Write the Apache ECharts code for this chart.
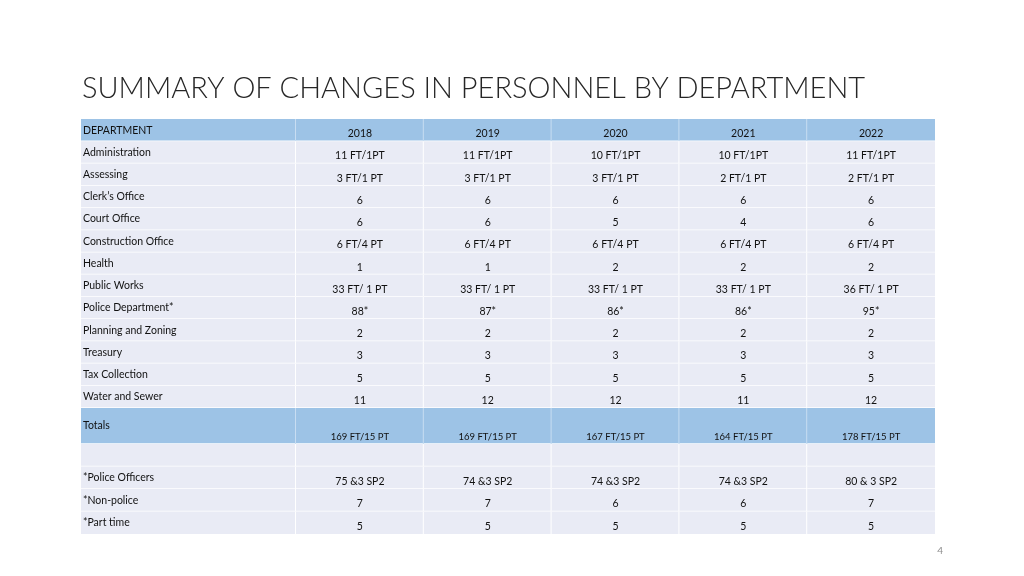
<!DOCTYPE html>
<html><head><meta charset="utf-8">
<script src="https://cdn.jsdelivr.net/npm/echarts/dist/echarts.min.js"></script>
<style>html,body{margin:0;padding:0;background:#fff}#c{width:1024px;height:576px}</style>
</head><body><div id="c"></div>
<script>
// ---------- DATA ----------
const titleText = 'SUMMARY OF CHANGES IN PERSONNEL BY DEPARTMENT';
const headerLabel = 'DEPARTMENT';
const years = ['2018', '2019', '2020', '2021', '2022'];
const departments = ['Administration', 'Assessing', 'Clerk\u2019s Office', 'Court Office', 'Construction Office', 'Health',
  'Public Works', 'Police Department*', 'Planning and Zoning', 'Treasury', 'Tax Collection', 'Water and Sewer'];
const staff2018 = ['11 FT/1PT', '3 FT/1 PT', '6', '6', '6 FT/4 PT', '1', '33 FT/ 1 PT', '88*', '2', '3', '5', '11'];
const staff2019 = ['11 FT/1PT', '3 FT/1 PT', '6', '6', '6 FT/4 PT', '1', '33 FT/ 1 PT', '87*', '2', '3', '5', '12'];
const staff2020 = ['10 FT/1PT', '3 FT/1 PT', '6', '5', '6 FT/4 PT', '2', '33 FT/ 1 PT', '86*', '2', '3', '5', '12'];
const staff2021 = ['10 FT/1PT', '2 FT/1 PT', '6', '4', '6 FT/4 PT', '2', '33 FT/ 1 PT', '86*', '2', '3', '5', '11'];
const staff2022 = ['11 FT/1PT', '2 FT/1 PT', '6', '6', '6 FT/4 PT', '2', '36 FT/ 1 PT', '95*', '2', '3', '5', '12'];
const totalsLabel = 'Totals';
const totals = ['169 FT/15 PT', '169 FT/15 PT', '167 FT/15 PT', '164 FT/15 PT', '178 FT/15 PT'];
const footLabels = ['*Police Officers', '*Non-police', '*Part time'];
const policeOfficers = ['75 &3 SP2', '74 &3 SP2', '74 &3 SP2', '74 &3 SP2', '80 & 3 SP2'];
const nonPolice = ['7', '7', '6', '6', '7'];
const partTime = ['5', '5', '5', '5', '5'];
const pageNumber = '4';

// ---------- TABLE STRUCTURE (built from data) ----------
const staffByYear = [staff2018, staff2019, staff2020, staff2021, staff2022];
const blocks = [
  { labels: [headerLabel].concat(departments),
    cols: years.map((y, j) => [y].concat(staffByYear[j])),
    blueRows: [0], top: 119, height: 289, valueSize: 10.5 },
  { labels: [totalsLabel], cols: totals.map(t => [t]), blueRows: [0], top: 408, height: 36, valueSize: 9.5 },
  { labels: [''].concat(footLabels),
    cols: years.map((y, j) => ['', policeOfficers[j], nonPolice[j], partTime[j]]),
    blueRows: [], top: 444, height: 90, valueSize: 10.5 }
];

const FONT = 'Lato';
const BLUE = '#9DC3E6', LIGHT = '#E9EBF5', BLUE_SEP = '#C8DDF2', TEXT = '#111111';
const LEFT = 81, LABEL_W = 215, VAL_W = 639;

const grids = [], xAxes = [], yAxes = [], series = [];

function makeRenderer(items, opts) {
  return function (params, api) {
    const it = items[params.dataIndex];
    const c = api.coord([api.value(0), api.value(1)]);
    const s = api.size([1, 1]);
    const x = c[0] - s[0] / 2, y = c[1] - s[1] / 2, w = s[0], h = s[1];
    const blue = opts.blueRows.indexOf(it[1]) >= 0;
    const children = [
      { type: 'rect', shape: { x: x, y: y, width: w, height: h }, style: { fill: blue ? BLUE : LIGHT } }
    ];
    if (!opts.lastRowOverall || it[1] < opts.rowCount - 1) {
      children.push({ type: 'rect', shape: { x: x, y: y + h - 0.75, width: w, height: 1.5 }, style: { fill: '#fff' } });
    }
    if (!(opts.isValue && it[0] === opts.colCount - 1)) {
      children.push({ type: 'rect', shape: { x: x + w - 1, y: y, width: 2, height: h }, style: { fill: blue ? BLUE_SEP : '#fff' } });
    }
    if (it[2]) {
      if (opts.isValue) {
        children.push({ type: 'text', style: { text: it[2], x: x + w / 2, y: y + h - 7.5, align: 'center', verticalAlign: 'middle',
          fill: TEXT, fontSize: opts.valueSize, fontFamily: FONT } });
      } else {
        children.push({ type: 'text', style: { text: it[2], x: x + 2, y: y + h / 2, align: 'left', verticalAlign: 'middle',
          fill: TEXT, fontSize: 10.5, fontFamily: FONT } });
      }
    }
    return { type: 'group', children: children };
  };
}

blocks.forEach((b, bi) => {
  const rowIds = b.labels.map((_, i) => 'r' + i);
  const lastBlock = bi === blocks.length - 1;
  [false, true].forEach(isValue => {
    const gi = grids.length;
    grids.push({ left: isValue ? LEFT + LABEL_W : LEFT, width: isValue ? VAL_W : LABEL_W, top: b.top, height: b.height });
    xAxes.push({ type: 'category', gridIndex: gi, data: isValue ? years : ['label'], show: false });
    yAxes.push({ type: 'category', gridIndex: gi, data: rowIds, inverse: true, show: false });
    const items = [];
    if (isValue) {
      b.cols.forEach((col, j) => col.forEach((t, i) => items.push([j, i, t])));
    } else {
      b.labels.forEach((t, i) => items.push([0, i, t]));
    }
    series.push({
      type: 'custom', xAxisIndex: gi, yAxisIndex: gi, silent: true,
      data: items.map(it => [it[0], it[1]]),
      renderItem: makeRenderer(items, { isValue: isValue, blueRows: b.blueRows, valueSize: b.valueSize,
        colCount: years.length, rowCount: b.labels.length, lastRowOverall: lastBlock })
    });
  });
});

const chart = echarts.init(document.getElementById('c'), null, { renderer: 'canvas' });
chart.setOption({
  animation: false,
  backgroundColor: '#fff',
  title: [
    { text: titleText, left: 77, top: 69, textStyle: { fontFamily: FONT, fontWeight: 300, fontSize: 29, color: '#262626' } },
    { text: pageNumber, right: 76, top: 541, textStyle: { fontFamily: FONT, fontWeight: 'normal', fontSize: 10, color: '#8c8c8c' } }
  ],
  grid: grids, xAxis: xAxes, yAxis: yAxes, series: series
});
</script></body></html>
